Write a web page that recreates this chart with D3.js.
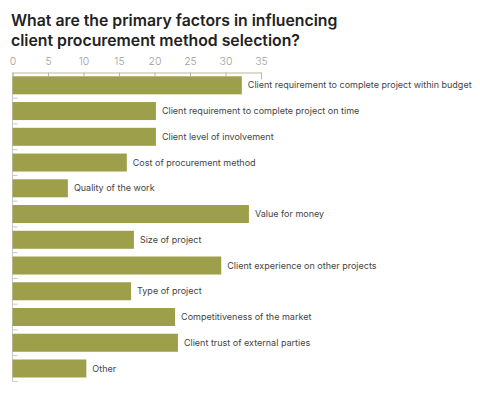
<!DOCTYPE html>
<html>
<head>
<meta charset="utf-8">
<script src="https://cdn.jsdelivr.net/npm/d3@7"></script>
<style>
  body { margin: 0; background: #fff; }
  svg { display: block; }
</style>
</head>
<body>
<div id="chart"></div>
<script>
// chart data
const categories = [
  "Client requirement to complete project within budget",
  "Client requirement to complete project on time",
  "Client level of involvement",
  "Cost of procurement method",
  "Quality of the work",
  "Value for money",
  "Size of project",
  "Client experience on other projects",
  "Type of project",
  "Competitiveness of the market",
  "Client trust of external parties",
  "Other"
];
const values = [32.3, 20.2, 20.2, 16.1, 7.8, 33.3, 17.1, 29.4, 16.7, 22.9, 23.3, 10.4];
const xTicks = [0, 5, 10, 15, 20, 25, 30, 35];
const titleLines = [
  "What are the primary factors in influencing",
  "client procurement method selection?"
];

const width = 480;
const height = 398;
const font = "Inter, 'Noto Sans', sans-serif";

const svg = d3.select("#chart")
  .append("svg")
  .attr("width", width)
  .attr("height", height);

// title
svg.append("text")
  .attr("x", 11)
  .attr("y", 26)
  .attr("font-family", font)
  .attr("font-size", 15.8)
  .attr("font-weight", 600)
  .attr("fill", "#222")
  .selectAll("tspan")
  .data(titleLines)
  .enter()
  .append("tspan")
  .attr("x", 11)
  .attr("dy", (d, i) => i === 0 ? 0 : 19.5)
  .text(d => d);

// scales
const x = d3.scaleLinear()
  .domain([0, 35])
  .range([12.5, 261]);

const y = d3.scaleBand()
  .domain(categories)
  .range([76.3, 377.5])
  .paddingInner(0.3)
  .paddingOuter(0);

// x axis on top
const xAxis = svg.append("g")
  .attr("transform", "translate(0,72.5)")
  .call(d3.axisTop(x).tickValues(xTicks).tickSizeInner(-4).tickSizeOuter(-7).tickPadding(7.5));
xAxis.select(".domain").attr("stroke", "#b9b99c");
xAxis.selectAll(".tick line").attr("stroke", "#b9b99c");
xAxis.selectAll(".tick text")
  .attr("font-family", font)
  .attr("font-size", 10.5)
  .attr("font-weight", 300)
  .attr("fill", "#a0a0a0");

// y axis: faint line with ticks in the gaps
const gapTicks = categories.map(c => y(c) + y.bandwidth() + (y.step() - y.bandwidth()) / 2);
svg.append("line")
  .attr("x1", x(0)).attr("x2", x(0))
  .attr("y1", 72.5).attr("y2", gapTicks[gapTicks.length - 1])
  .attr("stroke", "#c8c8c8");
svg.selectAll(".gap-tick")
  .data(gapTicks)
  .enter()
  .append("line")
  .attr("class", "gap-tick")
  .attr("x1", x(0)).attr("x2", x(0) + 5)
  .attr("y1", d => d).attr("y2", d => d)
  .attr("stroke", "#c8c8c8");

// bars
svg.selectAll(".bar")
  .data(values)
  .enter()
  .append("rect")
  .attr("class", "bar")
  .attr("x", x(0))
  .attr("y", (d, i) => y(categories[i]))
  .attr("width", d => x(d) - x(0))
  .attr("height", y.bandwidth())
  .attr("fill", "#9e9f4b");

// labels
svg.selectAll(".label")
  .data(values)
  .enter()
  .append("text")
  .attr("class", "label")
  .attr("x", d => x(d) + 6)
  .attr("y", (d, i) => y(categories[i]) + y.bandwidth() / 2)
  .attr("dy", "0.35em")
  .attr("font-family", font)
  .attr("font-size", 9)
  .attr("fill", "#444")
  .text((d, i) => categories[i]);
</script>
</body>
</html>
